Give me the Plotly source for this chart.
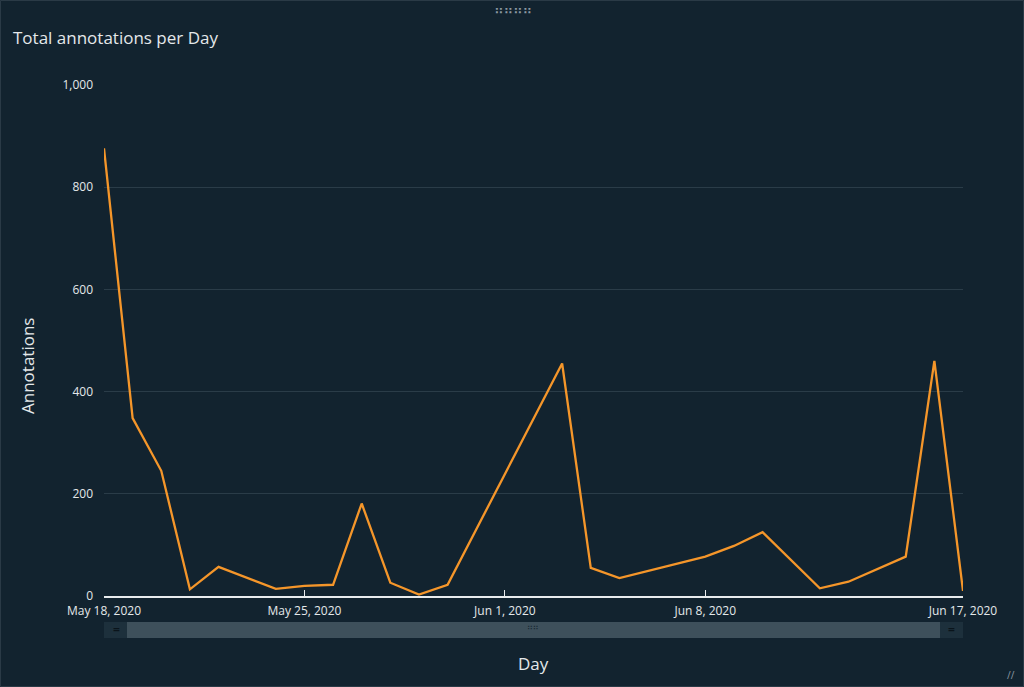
import plotly.graph_objects as go

# daily totals (missing days simply not in the data)
days = ["2020-05-18", "2020-05-19", "2020-05-20", "2020-05-21", "2020-05-22",
        "2020-05-24", "2020-05-25", "2020-05-26", "2020-05-27", "2020-05-28",
        "2020-05-29", "2020-05-30", "2020-06-03", "2020-06-04", "2020-06-05",
        "2020-06-08", "2020-06-09", "2020-06-10", "2020-06-12", "2020-06-13",
        "2020-06-15", "2020-06-16", "2020-06-17"]
annotations = [876, 348, 245, 13, 57,
               14, 20, 22, 181, 26,
               3, 22, 455, 55, 35,
               77, 98, 125, 15, 28,
               77, 460, 10]

tick_days = ["2020-05-18", "2020-05-25", "2020-06-01", "2020-06-08", "2020-06-17"]
tick_text = ["May 18, 2020", "May 25, 2020", "Jun 1, 2020", "Jun 8, 2020", "Jun 17, 2020"]
y_ticks = [0, 200, 400, 600, 800, 1000]

bg = "#12232f"
txt = "#e4e8ea"
font = "Open Sans"

fig = go.Figure()
fig.add_trace(go.Scatter(x=days, y=annotations, mode="lines",
                         line=dict(color="#f5962a", width=2.3),
                         hoverinfo="x+y"))

W, H = 1024, 687
L, R, T, B = 104, 61, 85, 91
pw, ph = W - L - R, H - T - B

def px(x):  # pixel x -> paper
    return (x - L) / pw

def py(y):  # pixel y -> paper
    return (H - B - y) / ph

shapes = []
# slider bar under the axis
shapes.append(dict(type="rect", xref="paper", yref="paper", x0=0, x1=1,
                   y0=py(638), y1=py(622), fillcolor="#3e505b", line=dict(width=0), layer="below"))
shapes.append(dict(type="rect", xref="paper", yref="paper", x0=0, x1=px(127),
                   y0=py(638), y1=py(622), fillcolor="#1d303c", line=dict(width=0), layer="below"))
shapes.append(dict(type="rect", xref="paper", yref="paper", x0=px(940), x1=1,
                   y0=py(638), y1=py(622), fillcolor="#1d303c", line=dict(width=0), layer="below"))
# panel border
shapes.append(dict(type="rect", xref="paper", yref="paper", x0=px(0.5), x1=px(W - 0.5),
                   y0=py(H - 0.5), y1=py(0.5), line=dict(color="#2a3a46", width=1), layer="below"))

notes = [
    dict(text="Total annotations per Day", x=px(11), y=py(38), xanchor="left", yanchor="middle",
         font=dict(size=17, color=txt)),
    dict(text="Annotations", x=px(27), y=py(366), textangle=-90, xanchor="center", yanchor="middle",
         font=dict(size=17, color=txt)),
    dict(text="Day", x=px(533), y=py(663), xanchor="center", yanchor="middle",
         font=dict(size=17, color=txt)),
    dict(text="<b>=</b>", x=px(116), y=py(630), xanchor="center", yanchor="middle",
         font=dict(size=12, color="#0a141b")),
    dict(text="<b>=</b>", x=px(951), y=py(630), xanchor="center", yanchor="middle",
         font=dict(size=12, color="#0a141b")),
    dict(text="⠛⠛", x=px(533), y=py(630), xanchor="center", yanchor="middle",
         font=dict(size=8, color="#1a2a35", family="DejaVu Sans")),
    dict(text="⠛⠛⠛⠛", x=px(513), y=py(13), xanchor="center", yanchor="middle",
         font=dict(size=13, color="#8d9aa3", family="DejaVu Sans")),
    dict(text="//", x=px(1011), y=py(675), xanchor="center", yanchor="middle",
         font=dict(size=10, color="#8d9aa3")),
]
for n in notes:
    n.update(xref="paper", yref="paper", showarrow=False)

fig.update_layout(
    width=W, height=H,
    margin=dict(l=L, r=R, t=T, b=B),
    paper_bgcolor=bg, plot_bgcolor=bg,
    font=dict(family=font, color=txt, size=12),
    showlegend=False,
    shapes=shapes,
    annotations=notes,
)
fig.update_xaxes(range=[days[0], days[-1]], tickvals=tick_days, ticktext=tick_text,
                 showgrid=False, zeroline=False, showline=True, linecolor="#e8ebed", linewidth=1.5,
                 ticks="inside", ticklen=6, tickcolor="#e8ebed", tickwidth=1,
                 ticklabelstandoff=3, tickfont=dict(size=12, color=txt))
fig.update_yaxes(range=[0, 1000], tickvals=y_ticks, tickformat=",d",
                 showgrid=True, gridcolor="#2a3c48", gridwidth=1, zeroline=False,
                 showline=False, ticks="", ticklabelstandoff=10,
                 tickfont=dict(size=12, color=txt))

# the page body has a default margin; drop it so the chart sits at the corner
fig.write_html("out.html", config={"displayModeBar": False},
               post_script="document.body.style.margin='0';")
